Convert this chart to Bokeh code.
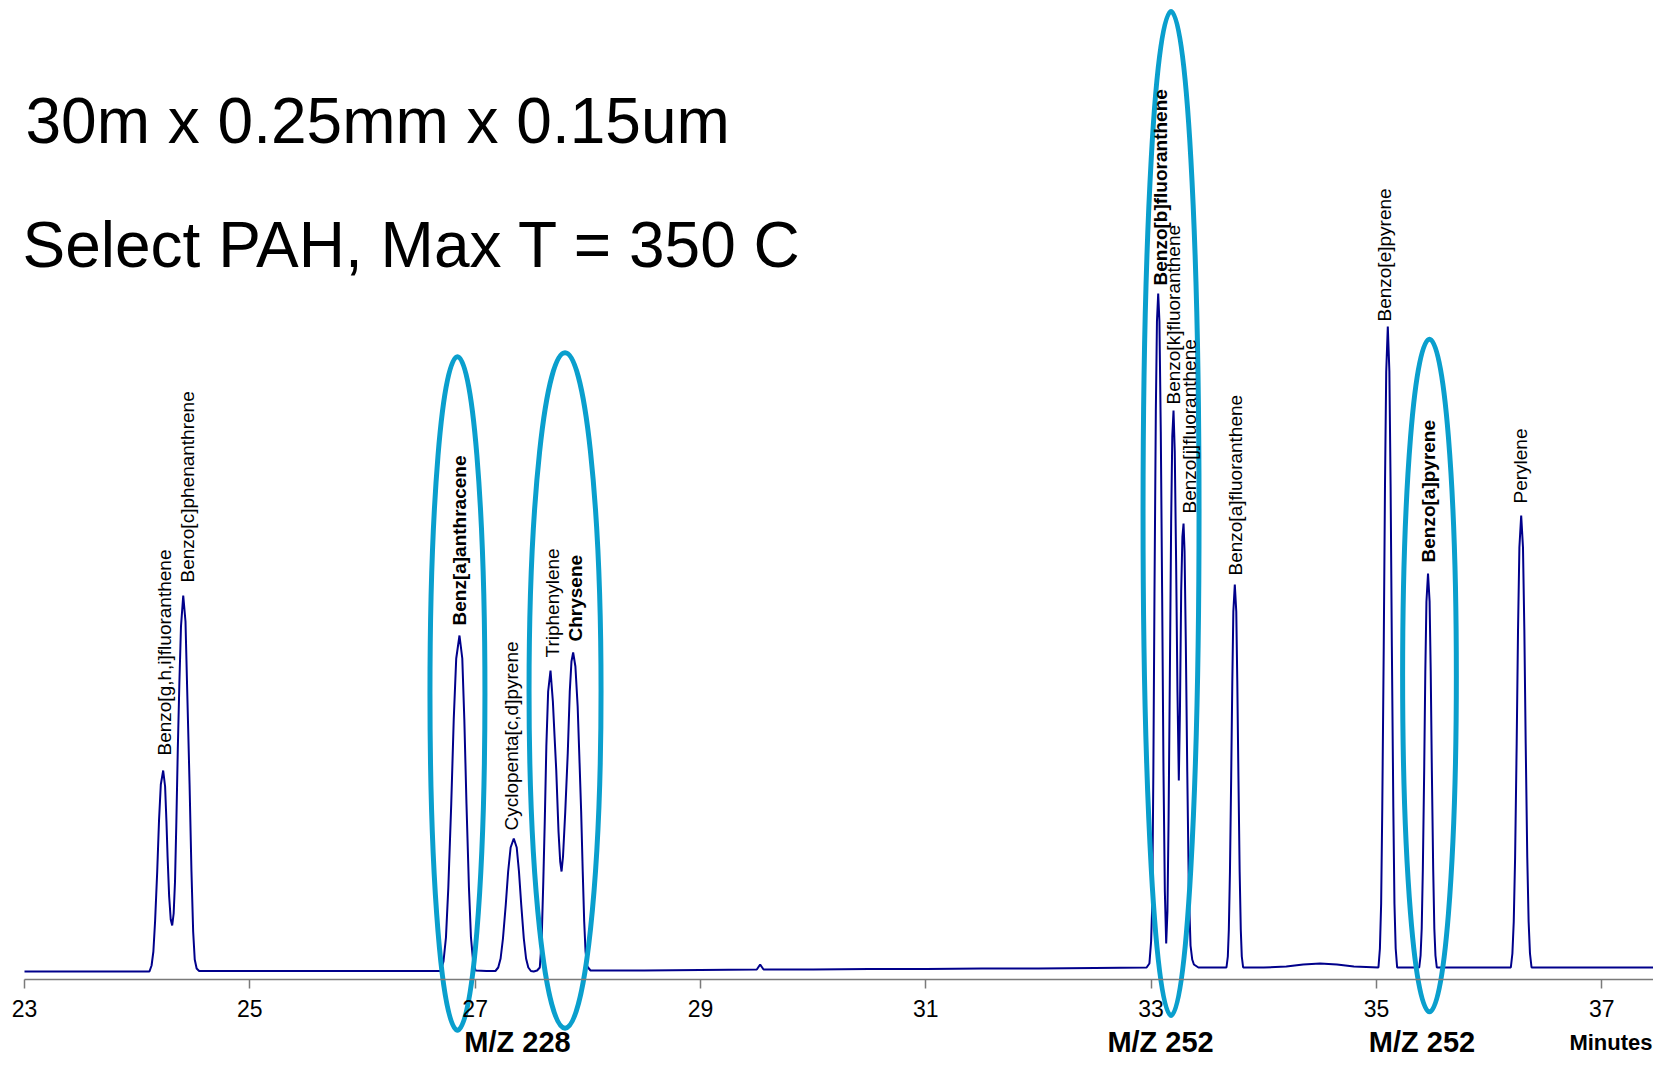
import math
from bokeh.plotting import figure
from bokeh.models import Range1d, LinearAxis, FixedTicker, ColumnDataSource, Label
from bokeh.core.properties import value
from bokeh.embed import file_html
from bokeh.resources import INLINE

FONT = "Liberation Sans"

# ---------------- data ----------------
x_ticks = [23, 25, 27, 29, 31, 33, 35, 37]

title_lines = ["30m x 0.25mm x 0.15um", "Select PAH, Max T = 350  C"]

# chromatogram trace: retention time (min) and abundance (arbitrary units)
trace_min = [
    23.00, 23.50, 24.00, 24.109, 24.128, 24.144, 24.159, 24.178, 24.194, 24.210,
    24.231, 24.248, 24.260, 24.270, 24.284, 24.298, 24.311, 24.324, 24.336, 24.348,
    24.361, 24.375, 24.389, 24.409, 24.429, 24.444, 24.465, 24.482, 24.497, 24.511,
    24.528, 24.550, 25.00, 25.50, 26.00, 26.50, 26.693, 26.719, 26.741, 26.762,
    26.788, 26.810, 26.832, 26.861, 26.886, 26.904, 26.923, 26.945, 26.963, 26.982,
    27.004, 27.100, 27.180, 27.205, 27.226, 27.247, 27.272, 27.293, 27.315, 27.343,
    27.369, 27.389, 27.409, 27.432, 27.452, 27.472, 27.495, 27.520, 27.550, 27.574,
    27.590, 27.605, 27.618, 27.632, 27.648, 27.669, 27.690, 27.705, 27.720, 27.740,
    27.755, 27.767, 27.780, 27.800, 27.822, 27.840, 27.855, 27.870, 27.890, 27.910,
    27.925, 27.941, 27.955, 27.968, 27.980, 27.995, 28.024, 28.500, 29.000, 29.500,
    29.530, 29.560, 30.000, 30.500, 31.000, 31.500, 32.000, 32.500, 32.960, 32.985,
    33.000, 33.010, 33.020, 33.030, 33.042, 33.052, 33.063, 33.074, 33.086, 33.098,
    33.110, 33.122, 33.134, 33.145, 33.155, 33.166, 33.178, 33.188, 33.199, 33.210,
    33.222, 33.234, 33.246, 33.256, 33.267, 33.278, 33.288, 33.297, 33.308, 33.321,
    33.335, 33.350, 33.365, 33.380, 33.420, 33.669, 33.681, 33.690, 33.700, 33.711,
    33.721, 33.730, 33.743, 33.756, 33.765, 33.775, 33.786, 33.796, 33.805, 33.817,
    34.000, 34.200, 34.350, 34.500, 34.650, 34.800, 35.018, 35.031, 35.042, 35.052,
    35.065, 35.076, 35.087, 35.101, 35.115, 35.126, 35.137, 35.150, 35.160, 35.171,
    35.184, 35.380, 35.392, 35.402, 35.412, 35.424, 35.434, 35.444, 35.458, 35.472,
    35.482, 35.492, 35.504, 35.514, 35.524, 35.536, 36.193, 36.207, 36.219, 36.231,
    36.245, 36.257, 36.269, 36.285, 36.301, 36.313, 36.325, 36.339, 36.351, 36.363,
    36.377, 36.800, 37.200, 37.460,
]
trace_abund = [
    0, 0, 0, 0, 6, 20, 50, 100, 151, 187,
    201, 185, 150, 115, 75, 52, 46, 58, 90, 150,
    224, 290, 345, 376, 350, 282, 188, 100, 40, 12,
    3, 0.5, 0.5, 0.5, 0.5, 0.5, 0.5, 10, 34, 84,
    168, 252, 313, 336, 313, 252, 168, 84, 34, 10,
    1, 0.5, 0.5, 4, 13, 33, 67, 100, 124, 133,
    124, 100, 67, 33, 13, 4, 0.5, 0, 1, 4,
    30, 90, 150, 225, 280, 301, 270, 235, 201, 140,
    110, 100, 115, 160, 218, 280, 310, 319, 305, 265,
    215, 160, 100, 50, 20, 5, 1, 1, 1.5, 2,
    7, 2, 2, 2.5, 2.5, 3, 3, 3.5, 4, 8,
    30, 66, 200, 378, 560, 650, 678, 650, 540, 378,
    200, 80, 28, 60, 150, 289, 450, 535, 561, 520,
    410, 280, 191, 260, 380, 435, 448, 420, 330, 200,
    80, 26, 12, 7, 4, 4, 15, 42, 100, 196,
    291, 360, 387, 360, 291, 196, 100, 42, 15, 4,
    4, 5, 7, 8, 7, 5, 4, 23, 68, 164,
    325, 485, 600, 645, 600, 485, 325, 164, 68, 23,
    4, 4, 16, 43, 102, 201, 300, 370, 398, 370,
    300, 201, 102, 43, 16, 4, 4, 18, 50, 114,
    228, 342, 424, 456, 424, 342, 228, 114, 50, 18,
    4, 4, 4, 4,
]

# identified peaks (apex)
peak_names = [
    "Benzo[g,h,i]fluoranthene", "Benzo[c]phenanthrene", "Benz[a]anthracene",
    "Cyclopenta[c,d]pyrene", "Triphenylene", "Chrysene",
    "Benzo[b]fluoranthene", "Benzo[k]fluoranthene", "Benzo[j]fluoranthene",
    "Benzo[a]fluoranthene", "Benzo[e]pyrene", "Benzo[a]pyrene", "Perylene",
]
peak_rt = [24.231, 24.409, 26.861, 27.343, 27.669, 27.870, 33.063, 33.199,
           33.288, 33.743, 35.101, 35.458, 36.285]
peak_height = [201, 376, 336, 133, 301, 319, 678, 561, 448, 387, 645, 398, 456]
peak_bold = [False, False, True, False, False, True, True, False, False,
             False, False, True, False]

# highlighted regions (ellipses): centre time, centre level, span in min, span in abundance
hl_rt = [26.843, 27.798, 33.177, 35.471]
hl_level = [278, 281, 458, 296]
hl_span_min = [0.488, 0.639, 0.497, 0.477]
hl_span_abund = [674, 676, 1004, 674]

ion_labels = ["M/Z 228", "M/Z 252", "M/Z 252"]
ion_rt = [27.376, 33.084, 35.405]

# ---------------- layout ----------------
W, H = 1653, 1060
PX_PER_MIN = 112.66
T0 = 23.0                       # first tick sits 24 px from the left edge


def mins(px):
    return px / PX_PER_MIN


X0 = T0 - mins(24)
X1 = X0 + W / PX_PER_MIN
Y_TOP = 971
Y_BOTTOM = Y_TOP - H
AXIS_AT = -8

label_dx_px = [1, 4, 0, -2, 2, 2, 2, -0.5, 6, 1, -3, 0, -1]
label_gap_px = [15, 13, 10, 8, 13, 11, 8, 6, 10, 9, 5, 11, 12]

p = figure(width=W, height=H, x_range=Range1d(X0, X1), y_range=Range1d(Y_BOTTOM, Y_TOP),
           output_backend="svg", toolbar_location=None,
           x_axis_location=None, y_axis_location=None,
           min_border_left=0, min_border_right=0, min_border_top=0, min_border_bottom=0)
p.outline_line_color = None
p.background_fill_color = "white"
p.border_fill_color = "white"
p.grid.visible = False

# trace
p.line(trace_min, trace_abund, line_color="#00008B", line_width=2)

# highlight ellipses
p.ellipse(x=hl_rt, y=hl_level, width=hl_span_min, height=hl_span_abund,
          fill_color=None, line_color="#0A9FCD", line_width=5)

# peak labels
for bold in (False, True):
    idx = [i for i in range(len(peak_names)) if peak_bold[i] == bold]
    src = ColumnDataSource(dict(
        x=[peak_rt[i] + mins(label_dx_px[i]) for i in idx],
        y=[peak_height[i] + label_gap_px[i] for i in idx],
        t=[peak_names[i] for i in idx],
    ))
    p.text(x="x", y="y", text="t", source=src, angle=math.pi / 2,
           text_font=value(FONT), text_font_size=value("19px"),
           text_font_style="bold" if bold else "normal",
           text_align="left", text_baseline="middle", text_color="black")

# x axis drawn at fixed location inside the frame
xaxis = LinearAxis(fixed_location=AXIS_AT, ticker=FixedTicker(ticks=x_ticks),
                   bounds=(T0, X1))
xaxis.axis_line_color = "#7a7a7a"
xaxis.axis_line_width = 1.5
xaxis.major_tick_line_color = "#7a7a7a"
xaxis.major_tick_line_width = 1.5
xaxis.major_tick_out = 9
xaxis.major_tick_in = 0
xaxis.minor_tick_out = 0
xaxis.minor_tick_in = 0
xaxis.major_label_text_font = FONT
xaxis.major_label_text_font_size = "23px"
xaxis.major_label_text_color = "black"
xaxis.major_label_standoff = 11
p.add_layout(xaxis, "below")

# ion labels and axis unit
ion_src = ColumnDataSource(dict(x=ion_rt, y=[-70] * len(ion_rt), t=ion_labels))
p.text(x="x", y="y", text="t", source=ion_src, text_font=value(FONT),
       text_font_size=value("29px"), text_font_style="bold",
       text_align="center", text_baseline="middle", text_color="black")
p.add_layout(Label(x=X1 - mins(1), y=-71, text="Minutes", text_font=FONT,
                   text_font_size="22px", text_font_style="bold",
                   text_align="right", text_baseline="middle", text_color="black"))

# title lines
p.add_layout(Label(x=T0 + mins(1), y=851, text=title_lines[0], text_font=FONT,
                   text_font_size="64px", text_align="left",
                   text_baseline="middle", text_color="black"))
p.add_layout(Label(x=T0 - mins(2), y=727, text=title_lines[1], text_font=FONT,
                   text_font_size="64px", text_align="left",
                   text_baseline="middle", text_color="black"))

open("out.html", "w").write(file_html(p, INLINE))
